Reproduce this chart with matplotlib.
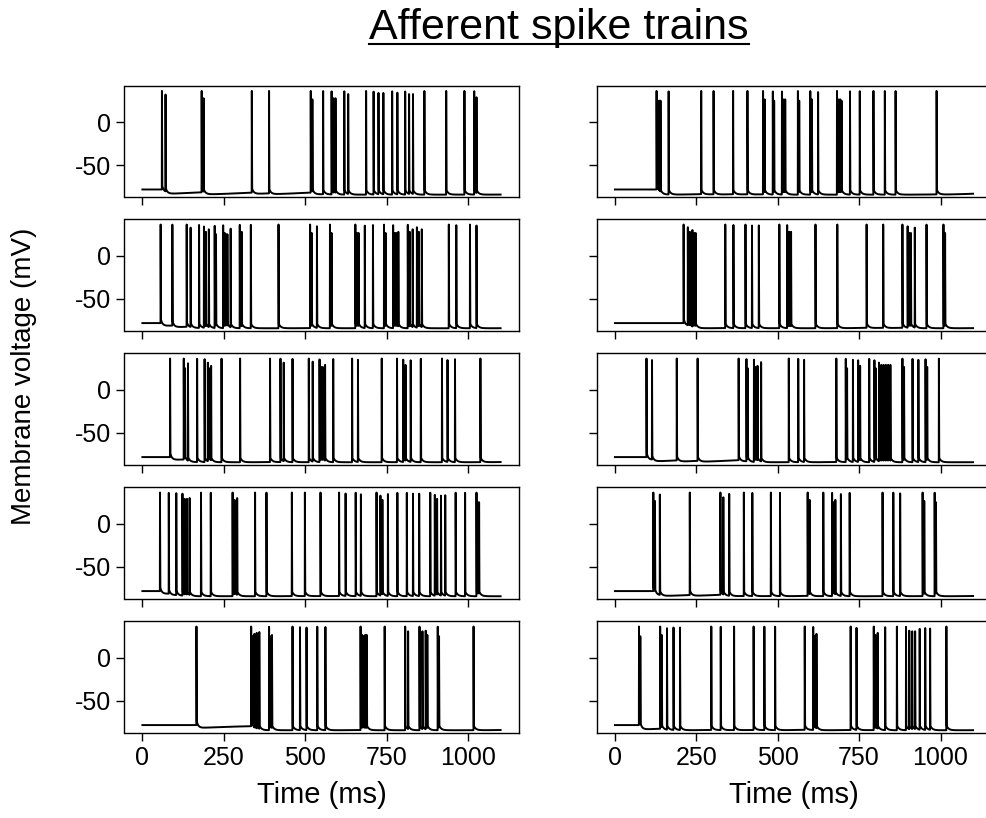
import matplotlib

matplotlib.use("Agg")
import matplotlib.pyplot as plt
import numpy as np
from matplotlib.lines import Line2D

plt.rcParams["font.family"] = ["Liberation Sans", "DejaVu Sans"]
plt.rcParams["axes.unicode_minus"] = False

# spike times (ms) of the ten afferents, left column then right column
spikes_l1 = [60, 71, 182, 188, 336, 389, 517, 522, 555, 581, 587, 593, 620,
             632, 687, 710, 725, 740, 767, 783, 807, 819, 831, 866, 933, 989,
             1019, 1026]
spikes_l2 = [56, 92, 136, 148, 174, 189, 195, 204, 222, 226, 248, 253, 257,
             261, 271, 299, 305, 333, 418, 515, 520, 536, 576, 581, 654, 659,
             664, 683, 708, 742, 747, 770, 775, 780, 786, 815, 821, 830, 843,
             849, 858, 941, 964, 1006, 1026]
spikes_l3 = [85, 127, 131, 140, 168, 191, 201, 205, 211, 243, 300, 392, 424,
             434, 461, 511, 523, 544, 549, 554, 561, 586, 644, 662, 735, 782,
             801, 808, 824, 855, 920, 937, 960, 1038]
spikes_l4 = [54, 81, 104, 123, 130, 137, 145, 180, 210, 277, 283, 291, 346,
             381, 459, 499, 547, 604, 624, 655, 671, 719, 731, 737, 754, 783,
             812, 831, 850, 884, 898, 905, 917, 930, 962, 991, 1026, 1030, 1034]
spikes_l5 = [166, 334, 338, 344, 351, 359, 389, 393, 398, 461, 484, 504, 537,
             562, 670, 675, 679, 684, 689, 744, 807, 816, 851, 860, 870, 875,
             907, 911, 1017]
spikes_r1 = [128, 132, 136, 140, 165, 265, 303, 363, 407, 455, 460, 485, 489,
             513, 518, 523, 562, 566, 600, 605, 624, 682, 687, 692, 696, 722,
             752, 794, 829, 862, 988]
spikes_r2 = [211, 224, 230, 238, 243, 248, 339, 364, 401, 421, 442, 505, 529,
             535, 541, 616, 683, 773, 824, 883, 899, 904, 909, 921, 957, 1009,
             1014]
spikes_r3 = [97, 114, 190, 254, 380, 404, 408, 427, 432, 438, 449, 534, 563,
             581, 680, 709, 713, 731, 747, 753, 781, 797, 801, 811, 818, 825,
             832, 839, 846, 883, 888, 914, 932, 954, 959, 995]
spikes_r4 = [118, 123, 138, 230, 324, 333, 351, 396, 422, 479, 507, 592, 598,
             640, 667, 671, 677, 694, 721, 822, 855, 876, 945, 950, 982, 986]
spikes_r5 = [74, 78, 139, 144, 160, 180, 200, 296, 325, 366, 426, 459, 492,
             583, 609, 613, 619, 724, 742, 795, 800, 807, 830, 866, 894, 904,
             913, 922, 936, 953, 968, 1018]

left_trains = [spikes_l1, spikes_l2, spikes_l3, spikes_l4, spikes_l5]
right_trains = [spikes_r1, spikes_r2, spikes_r3, spikes_r4, spikes_r5]

x_ticks = [0, 250, 500, 750, 1000]
y_ticks = [-50, 0]

T_END = 1100.0
DT = 0.05
V_REST = -78.0
V_PEAK = 36.5


def membrane_trace(spike_times, t):
    spikes = np.asarray(spike_times, dtype=float)
    v = np.full_like(t, V_REST)

    # depolarising hump right after each spike (reset by the next one)
    idx = np.searchsorted(spikes, t, side="right") - 1
    after = idx >= 0
    s = t[after] - spikes[idx[after]]
    v[after] += 6.0 * np.exp(-s / 6.0)

    # slow after-hyperpolarisation summed over past spikes
    ahp = np.zeros_like(t)
    for tk in spikes:
        m = t >= tk
        d = t[m] - tk
        ahp[m] += 4.0 * np.exp(-d / 150.0) * (1 - np.exp(-d / 4.0))
    v -= 6.0 * np.tanh(ahp / 6.0)

    # the action potentials themselves, smaller when fired in quick succession
    prev = -np.inf
    for tk in spikes:
        peak = V_PEAK - 20.0 * np.exp(-(tk - prev) / 7.0)
        w = np.interp(t, [tk - 0.4, tk, tk + 0.8], [0, 1, 0], left=0, right=0)
        v = v + w * (peak - v)
        prev = tk
    return v


t = np.arange(0, T_END + DT, DT)

fig_w, fig_h = 986, 818
fig = plt.figure(figsize=(fig_w / 100, fig_h / 100), dpi=100)

col_left = [124.5, 597.0]
ax_w = 394.0
row_top = [85.7, 219.3, 353.3, 487.3, 621.3]
ax_h = 111.7

for col, trains in enumerate([left_trains, right_trains]):
    for row, spikes in enumerate(trains):
        ax = fig.add_axes([
            col_left[col] / fig_w,
            1 - (row_top[row] + ax_h) / fig_h,
            ax_w / fig_w,
            ax_h / fig_h,
        ])
        ax.plot(t, membrane_trace(spikes, t), color="black", lw=1.4)
        ax.set_xlim(-55, 1155)
        ax.set_ylim(-87.2, 42.6)
        ax.set_xticks(x_ticks)
        ax.set_yticks(y_ticks)
        ax.tick_params(labelsize=18, length=6, width=1.0)
        for sp in ax.spines.values():
            sp.set_linewidth(1.0)
        if row < 4:
            ax.set_xticklabels([])
        else:
            ax.set_xlabel("Time (ms)", fontsize=21, labelpad=8)
        if col == 1:
            ax.set_yticklabels([])

fig.text(24 / fig_w, 1 - 376 / fig_h, "Membrane voltage (mV)", rotation=90,
         ha="center", va="center", fontsize=20)

title_y = 1 - 39.3 / fig_h
title = fig.text(559 / fig_w, title_y, "Afferent spike trains", ha="center",
                 va="baseline", fontsize=31)
fig.canvas.draw()
bb = title.get_window_extent()
line_y = title_y - 4.5 / fig_h
fig.add_artist(Line2D([bb.x0 / fig_w, bb.x1 / fig_w], [line_y, line_y],
                      color="black", lw=1.5, transform=fig.transFigure))

fig.savefig("out.png", dpi=100)
